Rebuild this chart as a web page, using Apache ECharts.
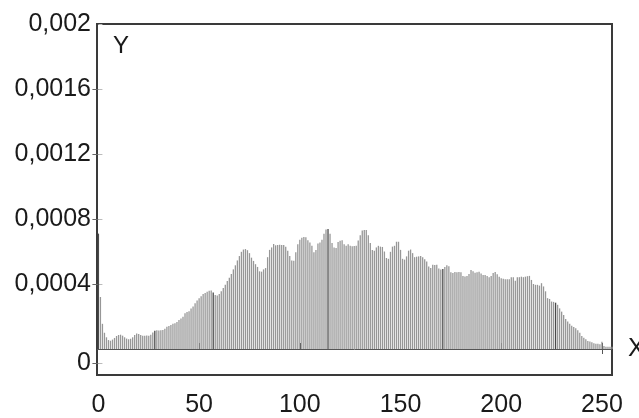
<!DOCTYPE html>
<html>
<head>
<meta charset="utf-8">
<script src="https://cdn.jsdelivr.net/npm/echarts@6/dist/echarts.min.js"></script>
<style>
  html, body { margin: 0; padding: 0; background: #fff; }
  #chart { width: 639px; height: 418px; }
</style>
</head>
<body>
<div id="chart"></div>
<script>
// histogram heights, in units of yUnit
const yUnit = 1e-4
const histValues = [
  7.1, 3.2, 1.55, 1.0, 0.72, 0.55, 0.51, 0.58, 0.68, 0.8,
  0.86, 0.88, 0.82, 0.72, 0.64, 0.6, 0.63, 0.72, 0.86, 0.95,
  0.93, 0.86, 0.82, 0.82, 0.83, 0.82, 0.88, 1.02, 1.12, 1.15,
  1.14, 1.15, 1.17, 1.24, 1.37, 1.42, 1.48, 1.55, 1.58, 1.66,
  1.78, 1.88, 1.99, 2.2, 2.28, 2.32, 2.5, 2.62, 2.82, 2.98,
  3.12, 3.25, 3.38, 3.45, 3.52, 3.58, 3.6, 3.48, 3.32, 3.3,
  3.38, 3.55, 3.75, 3.95, 4.18, 4.38, 4.62, 4.9, 5.15, 5.45,
  5.72, 5.98, 6.12, 6.15, 6.08, 5.9, 5.62, 5.42, 5.22, 5.05,
  4.78, 4.76, 4.9, 4.98, 5.65, 6.1, 6.25, 6.46, 6.38, 6.4,
  6.42, 6.4, 6.4, 6.3, 6.05, 5.72, 5.45, 5.43, 5.95, 6.45,
  6.72, 6.85, 6.9, 6.88, 6.7, 6.55, 6.35, 5.95, 6.1, 6.5,
  6.55, 6.72, 7.1, 7.35, 7.38, 7.1, 6.52, 6.25, 6.22, 6.58,
  6.66, 6.7, 6.45, 6.35, 6.45, 6.35, 6.32, 6.34, 6.35, 6.68,
  7.0, 7.3, 7.32, 7.32, 7.0, 6.52, 6.1, 6.05, 6.25, 6.35,
  6.3, 6.28, 6.0, 5.6, 5.55, 5.98, 6.3, 6.35, 6.6, 6.6,
  6.1, 5.55, 5.5, 5.7, 6.05, 6.12, 5.9, 5.65, 5.68, 5.7,
  5.72, 5.65, 5.52, 5.38, 5.08, 4.98, 5.18, 5.17, 5.18, 4.95,
  4.9, 4.92, 5.05, 5.15, 5.1, 4.72, 4.68, 4.74, 4.72, 4.74,
  4.72, 4.5, 4.46, 4.5, 4.62, 4.86, 4.78, 4.7, 4.72, 4.75,
  4.65, 4.55, 4.55, 4.5, 4.42, 4.5, 4.68, 4.74, 4.6, 4.45,
  4.36, 4.33, 4.3, 4.3, 4.3, 4.42, 4.42, 4.2, 4.42, 4.42,
  4.45, 4.42, 4.45, 4.48, 4.5, 4.25, 4.0, 3.95, 3.95, 3.9,
  4.05, 3.85, 3.55, 3.13, 3.08, 2.92, 2.9, 2.85, 2.72, 2.5,
  2.3, 2.1, 1.85, 1.7, 1.55, 1.43, 1.35, 1.28, 1.15, 1.0,
  0.8, 0.7, 0.6, 0.5, 0.46, 0.42, 0.35, 0.32, 0.33, 0.3,
  0.45, 0.18, 0.14, 0.14, 0.14, 0.14
]
// bins that print darker in the original
const darkBins = [0, 28, 57, 114, 171, 227]

const xTickValues = [0, 50, 100, 150, 200, 250]
const xTickLabels = ['0', '50', '100', '150', '200', '250']
// the "0" label sits a bit below the real zero line in the original
const yTickValues = [-0.0000862, 0.0004, 0.0008, 0.0012, 0.0016, 0.002]
const yTickLabels = ['0', '0,0004', '0,0008', '0,0012', '0,0016', '0,002']

const font = "'Liberation Sans', Arial, sans-serif"

const pick = (vals, labels) => v => {
  const i = vals.findIndex(t => Math.abs(t - v) < 1e-7)
  return i < 0 ? '' : labels[i]
}

const barData = histValues.map((v, i) => ({
  value: [i, v * yUnit],
  itemStyle: darkBins.includes(i) ? { color: '#4a4a4a' } : undefined
}))

const chart = echarts.init(document.getElementById('chart'), undefined, { renderer: 'canvas' })

chart.setOption({
  animation: false,
  grid: {
    left: 97, right: 27, top: 24, bottom: 43,
    outerBoundsMode: 'none', containLabel: false,
    show: true, borderColor: '#3a3a3a', borderWidth: 2, backgroundColor: 'transparent'
  },
  graphic: [{
    type: 'text', left: 113, top: 34,
    style: { text: 'Y', font: `24px ${font}`, fill: '#1a1a1a' }
  }],
  xAxis: [{
    type: 'value', min: -0.7, max: 255, position: 'bottom',
    name: 'X', nameLocation: 'end', nameGap: 16,
    nameTextStyle: { fontSize: 25, fontFamily: font, color: '#1a1a1a' },
    axisLine: { show: false },
    splitLine: { show: false },
    axisTick: { inside: true, length: 6, customValues: xTickValues, lineStyle: { color: '#333' } },
    axisLabel: {
      customValues: xTickValues, formatter: pick(xTickValues, xTickLabels),
      margin: 18, fontSize: 25, fontFamily: font, color: '#1a1a1a'
    }
  }, {
    type: 'value', min: -0.7, max: 255, position: 'top',
    axisLine: { show: false }, splitLine: { show: false },
    axisTick: { inside: true, length: 5, customValues: [250], lineStyle: { color: '#555' } },
    axisLabel: { show: false }
  }],
  yAxis: [{
    type: 'value', min: -0.00016, max: 0.002, position: 'left',
    axisLine: { show: false },
    splitLine: { show: false },
    axisTick: { inside: true, length: 4, customValues: yTickValues, lineStyle: { color: '#bbb' } },
    axisLabel: {
      customValues: yTickValues, formatter: pick(yTickValues, yTickLabels),
      margin: 6, fontSize: 25, fontFamily: font, color: '#1a1a1a'
    }
  }, {
    type: 'value', min: -0.00016, max: 0.002, position: 'right',
    axisLine: { show: false }, splitLine: { show: false },
    axisTick: { inside: true, length: 6, customValues: yTickValues.slice(0, 5), lineStyle: { color: '#666' } },
    axisLabel: { show: false }
  }],
  series: [{
    type: 'bar',
    data: barData,
    barWidth: 1.3,
    itemStyle: { color: '#979797' },
    markLine: {
      silent: true, symbol: 'none', label: { show: false },
      lineStyle: { color: '#555', width: 1, type: 'solid' },
      data: [{ yAxis: 0 }]
    }
  }]
})
</script>
</body>
</html>
